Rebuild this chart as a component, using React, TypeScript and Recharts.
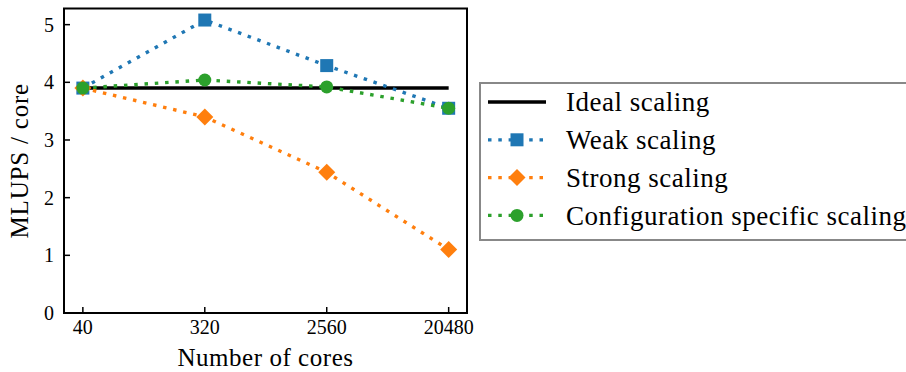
import React from "react";
import { LineChart, Line, XAxis, YAxis, ReferenceArea } from "recharts";

const cores = [40, 320, 2560, 20480];
const ideal = [3.9, 3.9, 3.9, 3.9];
const weak = [3.9, 5.08, 4.29, 3.55];
const strong = [3.9, 3.4, 2.44, 1.1];
const config = [3.9, 4.04, 3.92, 3.55];
const yTicks = [0, 1, 2, 3, 4, 5];

const seriesNames = ["Ideal scaling", "Weak scaling", "Strong scaling", "Configuration specific scaling"];

const data = cores.map((c, i) => ({
  cores: c,
  ideal: ideal[i],
  weak: weak[i],
  strong: strong[i],
  config: config[i],
}));

const FONT = "Liberation Serif";
const BLUE = "#1f77b4";
const ORANGE = "#ff7f0e";
const GREEN = "#2ca02c";
const DOTS = "3.5 6.8";

const Square = ({ cx, cy, color }: any) => (
  <rect x={cx - 6.5} y={cy - 6.5} width={13} height={13} fill={color} />
);
const Diamond = ({ cx, cy, color }: any) => (
  <polygon points={`${cx},${cy - 8.5} ${cx + 8.5},${cy} ${cx},${cy + 8.5} ${cx - 8.5},${cy}`} fill={color} />
);
const Circle = ({ cx, cy, color }: any) => <circle cx={cx} cy={cy} r={6.5} fill={color} />;

const YTitle = ({ viewBox }: any) => {
  const x = viewBox.x + 28;
  const y = viewBox.y + viewBox.height / 2;
  return (
    <text
      x={x}
      y={y}
      transform={`rotate(-90 ${x} ${y})`}
      textAnchor="middle"
      fill="#000"
      fontFamily={FONT}
      fontSize={25}
      letterSpacing={0.8}
    >
      MLUPS / core
    </text>
  );
};

const XTitle = ({ viewBox }: any) => {
  const x = viewBox.x + viewBox.width / 2;
  const y = viewBox.y + viewBox.height - 6;
  return (
    <text x={x} y={y} textAnchor="middle" fill="#000" fontFamily={FONT} fontSize={25} letterSpacing={0.55}>
      Number of cores
    </text>
  );
};

const LegendBox = () => {
  const rows = [
    { name: seriesNames[0], color: "#000", marker: null, dash: undefined, width: 3.5 },
    { name: seriesNames[1], color: BLUE, marker: Square, dash: DOTS, width: 3.3 },
    { name: seriesNames[2], color: ORANGE, marker: Diamond, dash: DOTS, width: 3.3 },
    { name: seriesNames[3], color: GREEN, marker: Circle, dash: DOTS, width: 3.3 },
  ];
  return (
    <svg width={440} height={159} style={{ position: "absolute", left: 479, top: 82, overflow: "visible" }}>
      <rect x={1} y={1} width={440} height={157} fill="#fff" stroke="#888" strokeWidth={2} />
      {rows.map((r, i) => {
        const cy = 20 + i * 37.8;
        const M = r.marker;
        return (
          <g key={r.name}>
            <line x1={9} x2={67} y1={cy} y2={cy} stroke={r.color} strokeWidth={r.width} strokeDasharray={r.dash} />
            {M && <M cx={38} cy={cy} color={r.color} />}
            <text x={87} y={cy + 9.3} fill="#000" fontFamily={FONT} fontSize={27} letterSpacing={0.5}>
              {r.name}
            </text>
          </g>
        );
      })}
    </svg>
  );
};

export default function App() {
  return (
    <div style={{ position: "absolute", left: 0, top: 0, width: 906, height: 372, overflow: "hidden", background: "#fff" }}>
      <LineChart width={906} height={372} data={data} margin={{ top: 8.5, right: 439, bottom: 0, left: 0 }}>
        <XAxis
          dataKey="cores"
          type="number"
          scale="log"
          domain={[29, 28000]}
          allowDataOverflow
          ticks={cores}
          height={59}
          axisLine={false}
          tickSize={-6}
          tickMargin={13}
          tickLine={{ stroke: "#000", strokeWidth: 1.5 }}
          tick={{ fill: "#000", fontSize: 20, fontFamily: FONT }}
          label={<XTitle />}
        />
        <YAxis
          type="number"
          domain={[0, 5.28]}
          allowDataOverflow
          ticks={yTicks}
          width={64}
          axisLine={false}
          tickSize={-6}
          tickMargin={16}
          tickLine={{ stroke: "#000", strokeWidth: 1.5 }}
          tick={{ fill: "#000", fontSize: 20, fontFamily: FONT }}
          label={<YTitle />}
        />
        <ReferenceArea
          x1={29}
          x2={28000}
          y1={0}
          y2={5.28}
          fill="none"
          fillOpacity={0}
          stroke="#000"
          strokeWidth={2}
          ifOverflow="visible"
        />
        <Line dataKey="ideal" stroke="#000" strokeWidth={3.5} dot={false} isAnimationActive={false} />
        <Line
          dataKey="weak"
          type="linear"
          stroke={BLUE}
          strokeWidth={3.4}
          strokeDasharray={DOTS}
          dot={(p: any) => <Square key={`w${p.index}`} cx={p.cx} cy={p.cy} color={BLUE} />}
          isAnimationActive={false}
        />
        <Line
          dataKey="strong"
          type="linear"
          stroke={ORANGE}
          strokeWidth={3.4}
          strokeDasharray={DOTS}
          dot={(p: any) => <Diamond key={`s${p.index}`} cx={p.cx} cy={p.cy} color={ORANGE} />}
          isAnimationActive={false}
        />
        <Line
          dataKey="config"
          type="linear"
          stroke={GREEN}
          strokeWidth={3.4}
          strokeDasharray={DOTS}
          dot={(p: any) => <Circle key={`c${p.index}`} cx={p.cx} cy={p.cy} color={GREEN} />}
          isAnimationActive={false}
        />
      </LineChart>
      <LegendBox />
    </div>
  );
}
